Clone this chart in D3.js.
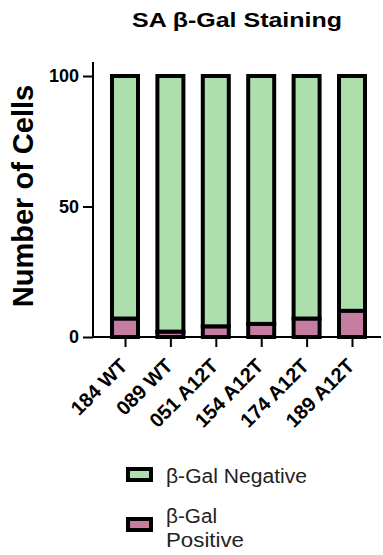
<!DOCTYPE html>
<html>
<head>
<meta charset="utf-8">
<script src="https://cdn.jsdelivr.net/npm/d3@7"></script>
<style>
  html, body { margin: 0; padding: 0; background: #fff; }
  svg { display: block; font-family: "Liberation Sans", Arial, sans-serif; }
</style>
</head>
<body>
<svg id="chart" width="383" height="555"></svg>
<script>
// Cell lines and the count of SA β-Gal positive / negative cells (out of 100)
const categories = ["184 WT", "089 WT", "051 A12T", "154 A12T", "174 A12T", "189 A12T"];
const positive = [7, 2, 4, 5, 7, 10];
const negative = [93, 98, 96, 95, 93, 90];
const yTicks = [0, 50, 100];
const seriesNames = ["β-Gal Negative", "β-Gal Positive"];

const green = "#addfad";
const pink = "#c67ca0";

const svg = d3.select("#chart");

const x = d3.scalePoint().domain(categories).range([125, 352]);
const y = d3.scaleLinear().domain([0, 100]).range([337, 76]);
const barW = 26;
const axisX = 93;

// title
svg.append("text")
  .attr("x", 237).attr("y", 27)
  .attr("text-anchor", "middle")
  .attr("font-size", 21).attr("font-weight", "bold")
  .attr("textLength", 210).attr("lengthAdjust", "spacingAndGlyphs")
  .text("SA β-Gal Staining");

// y axis title
svg.append("text")
  .attr("transform", "translate(33,196) rotate(-90)")
  .attr("text-anchor", "middle")
  .attr("font-size", 29).attr("font-weight", "bold")
  .text("Number of Cells");

// stacked bars: positive at the bottom, negative on top
const stacks = categories.map((c, i) => ({ c, pos: positive[i], neg: negative[i] }));
const g = svg.append("g");
g.selectAll("rect.neg").data(stacks).join("rect")
  .attr("class", "neg")
  .attr("x", d => x(d.c) - barW / 2)
  .attr("width", barW)
  .attr("y", d => y(d.pos + d.neg))
  .attr("height", d => y(d.pos) - y(d.pos + d.neg))
  .attr("fill", green).attr("stroke", "#000").attr("stroke-width", 4);
g.selectAll("rect.pos").data(stacks).join("rect")
  .attr("class", "pos")
  .attr("x", d => x(d.c) - barW / 2)
  .attr("width", barW)
  .attr("y", d => y(d.pos))
  .attr("height", d => y(0) - y(d.pos))
  .attr("fill", pink).attr("stroke", "#000").attr("stroke-width", 4);

// y axis
const yAxis = svg.append("g")
  .attr("transform", `translate(${axisX},0)`)
  .call(d3.axisLeft(y).tickValues(yTicks).tickSize(10).tickPadding(4).tickSizeOuter(0));
yAxis.select(".domain").remove();
yAxis.append("line").attr("x1", 0).attr("x2", 0).attr("y1", 62).attr("y2", y(0))
  .attr("stroke", "#000").attr("stroke-width", 2);
yAxis.selectAll(".tick line").attr("stroke-width", 2);
yAxis.selectAll(".tick text").attr("font-size", 18).attr("font-weight", "bold")
  .attr("fill", "#000").attr("font-family", "Liberation Sans, Arial, sans-serif");

// x axis
const xAxis = svg.append("g")
  .attr("transform", `translate(0,${y(0)})`)
  .call(d3.axisBottom(x).tickSize(10).tickSizeOuter(0));
xAxis.select(".domain").remove();
xAxis.append("line").attr("x1", axisX - 1).attr("x2", 381).attr("y1", 0).attr("y2", 0)
  .attr("stroke", "#000").attr("stroke-width", 2);
xAxis.selectAll(".tick line").attr("stroke-width", 2);
xAxis.selectAll(".tick text")
  .attr("font-size", 20).attr("font-weight", "bold").attr("fill", "#000")
  .attr("font-family", "Liberation Sans, Arial, sans-serif")
  .attr("text-anchor", "end")
  .attr("x", 0).attr("y", 0).attr("dy", "0.71em")
  .attr("transform", "translate(-7,20) rotate(-45)");

// legend
const legend = svg.append("g");
const legColors = [green, pink];
const legY = [475, 525];
legColors.forEach((col, i) => {
  legend.append("rect")
    .attr("x", 128).attr("y", legY[i] - 6).attr("width", 23).attr("height", 11)
    .attr("fill", col).attr("stroke", "#000").attr("stroke-width", 4);
});
legend.append("text").attr("x", 166).attr("y", 483)
  .attr("font-size", 20).attr("fill", "#222")
  .attr("textLength", 141).attr("lengthAdjust", "spacingAndGlyphs")
  .text(seriesNames[0]);
const [posLine1, posLine2] = seriesNames[1].split(" ");
legend.append("text").attr("x", 166).attr("y", 523)
  .attr("font-size", 20).attr("fill", "#222")
  .attr("textLength", 51).attr("lengthAdjust", "spacingAndGlyphs")
  .text(posLine1);
legend.append("text").attr("x", 166).attr("y", 547)
  .attr("font-size", 20).attr("fill", "#222")
  .attr("textLength", 78).attr("lengthAdjust", "spacingAndGlyphs")
  .text(posLine2);
</script>
</body>
</html>
